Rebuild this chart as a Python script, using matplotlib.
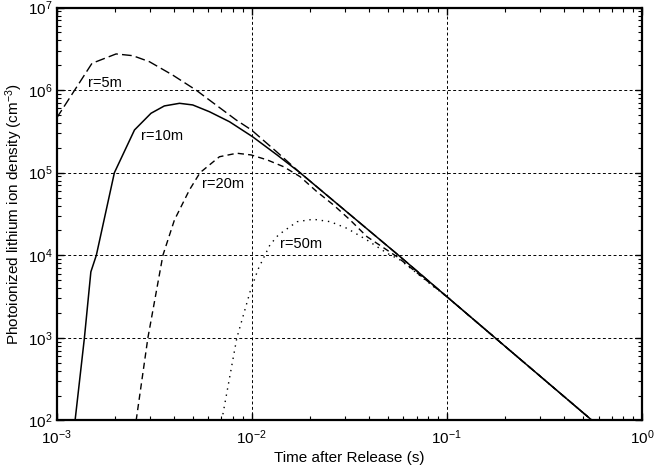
import numpy as np
import matplotlib
matplotlib.use('Agg')
from matplotlib import pyplot as plt

plt.rcParams["font.family"] = ["Liberation Sans", "DejaVu Sans"]
plt.rcParams["mathtext.fontset"] = "custom"
plt.rcParams["mathtext.rm"] = "Liberation Sans"
plt.rcParams["mathtext.it"] = "Liberation Sans:italic"

# values
t_5m = [1.0e-3, 1.52e-3, 2.02e-3, 2.46e-3, 2.99e-3, 3.94e-3, 5.19e-3, 6.57e-3,
        8.33e-3, 9.98e-3, 1.34e-2, 1.77e-2, 5.66e-2, 0.1, 0.177, 0.556]
n_5m = [4.56e5, 2.11e6, 2.74e6, 2.61e6, 2.21e6, 1.52e6, 1.00e6, 6.6e5,
        4.35e5, 3.29e5, 1.80e5, 1.0e5, 1.0e4, 3.16e3, 1.0e3, 1.0e2]

t_10m = [1.245e-3, 1.39e-3, 1.50e-3, 1.60e-3, 1.98e-3, 2.51e-3, 3.05e-3, 3.57e-3,
         4.27e-3, 4.99e-3, 6.08e-3, 7.70e-3, 1.01e-2, 1.35e-2, 1.77e-2, 5.66e-2,
         0.1, 0.177, 0.556]
n_10m = [1.0e2, 1.0e3, 6.3e3, 1.0e4, 1.0e5, 3.29e5, 5.24e5, 6.43e5,
         6.92e5, 6.61e5, 5.47e5, 4.14e5, 2.73e5, 1.64e5, 1.0e5, 1.0e4,
         3.16e3, 1.0e3, 1.0e2]

t_20m = [2.56e-3, 2.94e-3, 3.51e-3, 4.02e-3, 4.80e-3, 5.44e-3, 6.84e-3, 8.40e-3,
         9.94e-3, 1.20e-2, 1.46e-2, 1.77e-2, 2.16e-2, 2.63e-2, 3.20e-2, 3.90e-2,
         5.56e-2, 0.1, 0.177, 0.556]
n_20m = [1.0e2, 1.0e3, 1.0e4, 2.67e4, 6.18e4, 1.0e5, 1.56e5, 1.72e5,
         1.64e5, 1.43e5, 1.18e5, 8.96e4, 5.89e4, 4.06e4, 2.67e4, 1.68e4,
         9.6e3, 3.16e3, 1.0e3, 1.0e2]

t_50m = [7.03e-3, 8.40e-3, 9.82e-3, 1.08e-2, 1.24e-2, 1.37e-2, 1.71e-2, 2.07e-2,
         2.53e-2, 3.08e-2, 3.90e-2, 4.94e-2, 5.77e-2, 7.04e-2, 8.56e-2, 0.1,
         0.177, 0.556]
n_50m = [1.0e2, 1.0e3, 3.62e3, 6.8e3, 1.33e4, 1.76e4, 2.55e4, 2.73e4,
         2.55e4, 2.12e4, 1.53e4, 1.06e4, 8.77e3, 6.05e3, 4.17e3, 3.16e3,
         1.0e3, 1.0e2]

fig = plt.figure(figsize=(6.57, 4.69), dpi=100)
ax = fig.add_axes([0.086, 0.1035, 0.891, 0.8805])

ax.plot(t_5m, n_5m, color='black', lw=1.0, linestyle=(0, (7, 3)))
ax.plot(t_10m, n_10m, color='black', lw=1.1, linestyle='-')
ax.plot(t_20m, n_20m, color='black', lw=1.0, linestyle=(0, (4.5, 3)))
ax.plot(t_50m, n_50m, color='black', lw=1.0, linestyle=(0, (1, 3.5)))

ax.text(1.45e-3, 1.22e6, 'r=5m', fontsize=10.5, va='center')
ax.text(2.71e-3, 2.81e5, 'r=10m', fontsize=10.5, va='center')
ax.text(5.56e-3, 7.3e4, 'r=20m', fontsize=10.5, va='center')
ax.text(1.40e-2, 1.37e4, 'r=50m', fontsize=10.5, va='center')

ax.set_xscale('log')
ax.set_yscale('log')
ax.set_xlim(1e-3, 1)
ax.set_ylim(1e2, 1e7)

ax.grid(True, which='major', color='black', linestyle=(0, (3, 2.5)), linewidth=0.7)
ax.tick_params(which='both', direction='in', top=True, right=True, labelsize=11)
ax.tick_params(which='major', length=5, width=1)
ax.tick_params(which='minor', length=3, width=0.8)
ax.tick_params(axis='x', which='major', pad=6)
ax.tick_params(axis='y', which='major', pad=3)
for s in ax.spines.values():
    s.set_linewidth(1.6)

ax.set_xlabel('Time after Release (s)', fontsize=11, va='center')
ax.xaxis.set_label_coords(0.5, -0.09)
ax.set_ylabel('Photoionized lithium ion density (cm$^{-3}$)', fontsize=11, labelpad=2)

fig.savefig('out.png', dpi=100, facecolor='white')
